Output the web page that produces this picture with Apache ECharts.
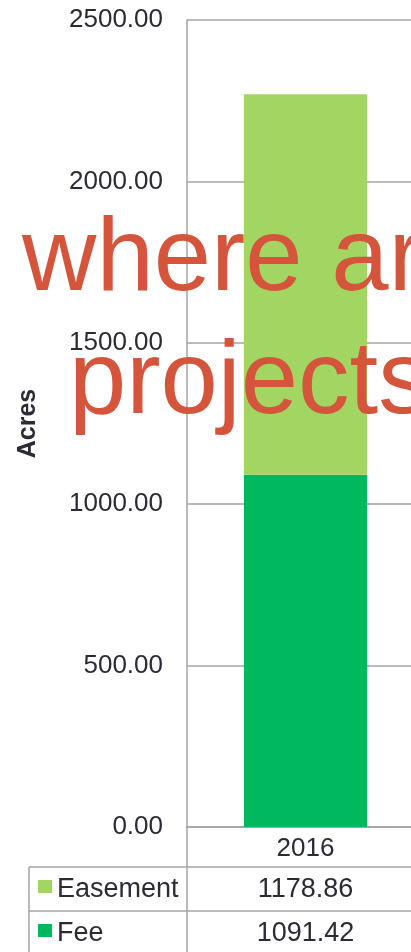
<!DOCTYPE html>
<html>
<head>
<meta charset="utf-8">
<script src="https://cdn.jsdelivr.net/npm/echarts@6/dist/echarts.min.js"></script>
<style>
html,body{margin:0;padding:0;background:#fff;}
#c{width:411px;height:952px;}
</style>
</head>
<body>
<div id="c"></div>
<script>
const categories = ['2016'];
const easement = [1178.86];
const fee = [1091.42];
const seriesNames = ['Easement', 'Fee'];
const overlayLines = ['where are', 'projects'];

const FONT = "'Liberation Sans', Arial, sans-serif";
const TEXT = '#2b2b35';
const GRID = '#a3a3a3';
const C_EASE = '#a2d562';
const C_FEE = '#00b95f';

const chart = echarts.init(document.getElementById('c'), null, {renderer: 'canvas'});

chart.setOption({
  animation: false,
  backgroundColor: '#fff',
  grid: {left: 187, top: 20, bottom: 125, width: 237, right: null, outerBoundsMode: 'none', containLabel: false},
  xAxis: {
    type: 'category',
    data: categories,
    axisLine: {show: true, lineStyle: {color: GRID, width: 1.5}},
    axisTick: {show: false},
    axisLabel: {color: TEXT, fontSize: 26, fontFamily: FONT, margin: 9}
  },
  yAxis: {
    type: 'value',
    min: 0, max: 2500, interval: 500,
    name: 'Acres',
    nameLocation: 'middle',
    nameGap: 146,
    nameRotate: 90,
    nameTextStyle: {color: TEXT, fontSize: 25, fontWeight: 'bold', fontFamily: FONT},
    axisLine: {show: true, lineStyle: {color: GRID, width: 1.5}},
    axisTick: {show: false},
    splitLine: {show: true, lineStyle: {color: GRID, width: 1.5}},
    axisLabel: {color: TEXT, fontSize: 26, fontFamily: FONT, margin: 24,
      formatter: v => v.toFixed(2)}
  },
  series: [
    {name: 'Fee', type: 'bar', stack: 'a', data: fee, barWidth: '52%', itemStyle: {color: C_FEE}},
    {name: 'Easement', type: 'bar', stack: 'a', data: easement, barWidth: '52%', itemStyle: {color: C_EASE}}
  ]
});

const cx = chart.convertToPixel({xAxisIndex: 0}, categories[0]);
const rows = [
  {name: seriesNames[0], vals: easement, color: C_EASE},
  {name: seriesNames[1], vals: fee, color: C_FEE}
];
const tableTop = 867, rowH = 44;
const g = [];
g.push({type: 'line', shape: {x1: 29, y1: tableTop, x2: 411, y2: tableTop}, style: {stroke: GRID, lineWidth: 1.5}});
g.push({type: 'line', shape: {x1: 29, y1: tableTop + rowH, x2: 411, y2: tableTop + rowH}, style: {stroke: GRID, lineWidth: 1.5}});
g.push({type: 'line', shape: {x1: 29, y1: tableTop + 2*rowH, x2: 411, y2: tableTop + 2*rowH}, style: {stroke: GRID, lineWidth: 1.5}});
g.push({type: 'line', shape: {x1: 29, y1: tableTop, x2: 29, y2: 952}, style: {stroke: GRID, lineWidth: 1.5}});
g.push({type: 'line', shape: {x1: 187, y1: 827, x2: 187, y2: 952}, style: {stroke: GRID, lineWidth: 1.5}});
rows.forEach((r, i) => {
  const cy = tableTop + rowH * i + rowH / 2;
  g.push({type: 'rect', shape: {x: 38, y: cy - 9, width: 14, height: 13}, style: {fill: r.color}});
  g.push({type: 'text', style: {text: r.name, x: 57, y: cy + 1, fill: TEXT, font: '27px ' + FONT, textVerticalAlign: 'middle', textAlign: 'left'}});
  g.push({type: 'text', style: {text: r.vals[0].toFixed(2), x: cx, y: cy + 1, fill: TEXT, font: '27px ' + FONT, textVerticalAlign: 'middle', textAlign: 'center'}});
});
g.push({type: 'text', z: 100, style: {text: overlayLines[0], x: 22, y: 262, fill: '#d5553c', font: '103px ' + FONT, textVerticalAlign: 'middle', textAlign: 'left'}});
g.push({type: 'text', z: 100, style: {text: overlayLines[1], x: 69, y: 385, fill: '#d5553c', font: '103px ' + FONT, textVerticalAlign: 'middle', textAlign: 'left'}});

chart.setOption({graphic: g});
</script>
</body>
</html>
